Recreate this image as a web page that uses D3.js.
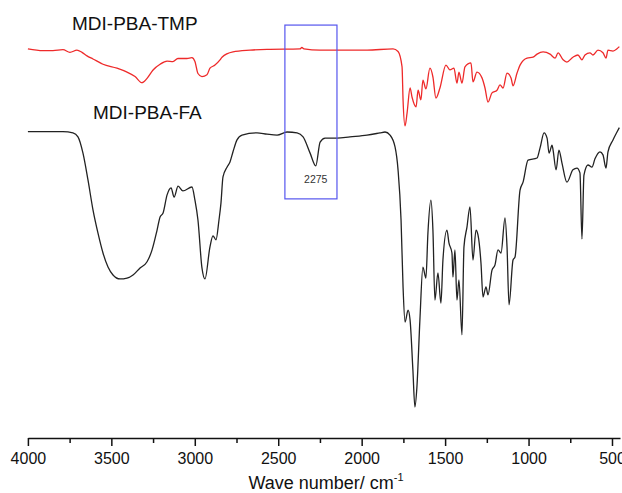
<!DOCTYPE html>
<html>
<head>
<meta charset="utf-8">
<script src="https://cdn.jsdelivr.net/npm/d3@7"></script>
<style>
  html, body { margin: 0; padding: 0; background: #fff; }
  svg { display: block; }
  text { font-family: "Liberation Sans", Arial, sans-serif; }
</style>
</head>
<body>
<svg id="chart" width="622" height="493"></svg>
<script>
// ---------------- DATA ----------------
// Wavenumber (cm^-1) for each spectrum point
const tmpWave = [4000,3910,3850,3790,3748,3706,3676,3646,3610,3550,3466,3406,3358,3316,3286,3250,3208,3166,3131,3101,3047,3017,2999,2981,2957,2927,2909,2879,2849,2837,2771,2669,2567,2370,2358,2346,2250,1968,1812,1782,1758,1752,1740,1728,1710,1698,1674,1662,1645,1633,1615,1591,1573,1555,1531,1495,1471,1447,1429,1417,1399,1381,1345,1333,1309,1279,1261,1243,1219,1189,1171,1153,1129,1105,1093,1069,1051,1009,973,949,913,871,841,823,793,770,734,704,680,662,632,614,584,554,536,524,494,470,456];
// Transmittance (a.u.), MDI-PBA-TMP (offset trace)
const tmpValue = [88.9,88.5,88.5,88.7,88.1,88.6,88.1,87.3,86.6,85.4,84.5,83.6,82.6,81.2,82.2,84.1,85.4,86.1,86.0,86.7,86.7,86.9,86.0,83.3,82.6,83.0,84.5,85.2,86.4,87.0,88.2,88.6,88.8,88.9,89.2,88.9,88.6,88.6,88.9,88.3,84.8,77.3,71.4,74.3,80.0,77.9,75.7,79.5,77.3,81.8,79.8,84.5,82.5,77.7,80.0,85.2,84.1,84.5,81.1,83.6,81.1,84.8,85.7,81.4,83.6,82.3,80.0,76.8,78.9,79.5,80.7,80.0,83.4,82.3,80.5,83.4,85.2,86.8,87.0,87.7,88.2,87.7,86.8,88.0,86.4,85.9,87.0,87.5,86.4,87.5,88.0,87.5,88.6,88.0,86.8,88.6,88.4,88.9,89.4];

const faWave = [4000,3790,3730,3700,3670,3640,3610,3580,3550,3520,3490,3448,3406,3370,3328,3286,3256,3226,3208,3190,3166,3142,3124,3100,3071,3017,2999,2981,2957,2939,2909,2891,2873,2855,2843,2831,2807,2789,2771,2747,2717,2627,2567,2507,2447,2387,2351,2309,2275,2249,2219,2147,2070,1968,1890,1860,1830,1800,1782,1764,1752,1740,1722,1710,1693,1681,1669,1651,1633,1615,1603,1585,1573,1561,1543,1525,1513,1489,1477,1459,1453,1441,1429,1417,1399,1387,1369,1351,1333,1315,1303,1285,1273,1255,1243,1219,1201,1183,1165,1141,1129,1117,1093,1081,1051,1033,1003,949,931,907,889,877,859,853,835,818,800,770,734,710,692,680,668,644,620,602,572,554,536,524,494,470,456];
// Transmittance (a.u.), MDI-PBA-FA
const faValue = [70.1,70.1,69.8,68.9,65.2,59.1,52.3,47.0,42.5,39.3,37.5,36.6,36.8,37.5,39.1,40.5,43.2,47.7,50.7,51.6,55.7,57.3,55.2,57.7,56.6,57.5,54.5,50.0,39.1,36.6,43.9,46.4,45.5,50.0,53.9,59.8,62.0,63.2,65.5,68.2,69.3,69.8,69.5,69.3,70.0,69.8,68.9,65.2,62.3,67.7,68.6,68.6,68.9,69.3,69.8,70.0,69.3,66.6,61.4,50.0,34.8,26.8,29.5,27.3,15.9,7.5,12.0,27.3,39.3,36.8,47.0,54.5,47.7,31.8,38.0,31.1,40.9,47.7,44.8,42.5,37.0,43.2,31.8,36.4,23.9,43.9,48.4,53.0,40.9,47.7,46.6,40.2,32.5,34.8,33.0,38.6,39.8,43.2,42.5,50.5,43.9,30.7,40.9,41.6,56.8,58.6,63.6,64.1,66.4,69.8,68.6,65.2,67.0,65.9,61.4,65.9,63.0,58.6,61.4,61.8,60.7,45.7,60.2,62.5,62.0,63.9,65.5,64.8,61.8,65.5,68.2,70.0,71.0];

const seriesNames = ["MDI-PBA-TMP", "MDI-PBA-FA"];
const majorTicks = [4000,3500,3000,2500,2000,1500,1000,500];
const minorTicks = [3750,3250,2750,2250,1750,1250,750];
const peakLabel = "2275";
const peakWave = 2275;
// highlighted region (wavenumber range, transmittance range)
const boxWave = [2460, 2148];
const boxValue = [94.3, 54.8];

// ---------------- DRAW ----------------
const svg = d3.select("#chart");
const axisY = 438;

const x = d3.scaleLinear().domain([4000, 452]).range([27.9, 620]);
const y = d3.scaleLinear().domain([0, 100]).range([440, 0]);

const line = d3.line()
  .x(d => x(d[0]))
  .y(d => y(d[1]))
  .curve(d3.curveMonotoneX);

const tmpData = d3.zip(tmpWave, tmpValue);
const faData = d3.zip(faWave, faValue);

svg.append("path").datum(tmpData)
  .attr("d", line)
  .attr("fill", "none")
  .attr("stroke", "#ee2a2a")
  .attr("stroke-width", 1.3)
  .attr("stroke-linejoin", "round");

svg.append("path").datum(faData)
  .attr("d", line)
  .attr("fill", "none")
  .attr("stroke", "#222")
  .attr("stroke-width", 1.3)
  .attr("stroke-linejoin", "round");

// highlight box
svg.append("rect")
  .attr("x", x(boxWave[0]))
  .attr("y", y(boxValue[0]))
  .attr("width", x(boxWave[1]) - x(boxWave[0]))
  .attr("height", y(boxValue[1]) - y(boxValue[0]))
  .attr("fill", "none")
  .attr("stroke", "#5555ee")
  .attr("stroke-width", 1.2);

svg.append("text")
  .attr("x", x(peakWave))
  .attr("y", 183)
  .attr("text-anchor", "middle")
  .attr("font-size", "10.5px")
  .attr("fill", "#333")
  .text(peakLabel);

// series labels
svg.append("text").attr("x", 72).attr("y", 30)
  .attr("font-size", "19px").attr("fill", "#111").text(seriesNames[0]);
svg.append("text").attr("x", 93).attr("y", 119)
  .attr("font-size", "19px").attr("fill", "#111").text(seriesNames[1]);

// x axis
const gx = svg.append("g").attr("transform", `translate(0,${axisY})`);
gx.call(d3.axisBottom(x).tickValues(majorTicks).tickSize(8).tickSizeOuter(0).tickPadding(7)
  .tickFormat(d3.format("d")));
gx.select(".domain").attr("stroke", "#111").attr("stroke-width", 1.5);
gx.selectAll(".tick line").attr("stroke", "#111").attr("stroke-width", 1.5);
gx.selectAll(".tick text").attr("font-size", "16px").attr("fill", "#111")
  .attr("font-family", "'Liberation Sans', Arial, sans-serif");

const gMinor = svg.append("g").attr("transform", `translate(0,${axisY})`);
gMinor.call(d3.axisBottom(x).tickValues(minorTicks).tickSize(5).tickSizeOuter(0).tickFormat(""));
gMinor.select(".domain").remove();
gMinor.selectAll(".tick line").attr("stroke", "#111").attr("stroke-width", 1.5);

// axis title
const title = svg.append("text")
  .attr("x", 326).attr("y", 489)
  .attr("text-anchor", "middle")
  .attr("font-size", "18px").attr("fill", "#111");
title.append("tspan").text("Wave number/ cm");
title.append("tspan").attr("dy", -8).attr("font-size", "11px").text("-1");
</script>
</body>
</html>
